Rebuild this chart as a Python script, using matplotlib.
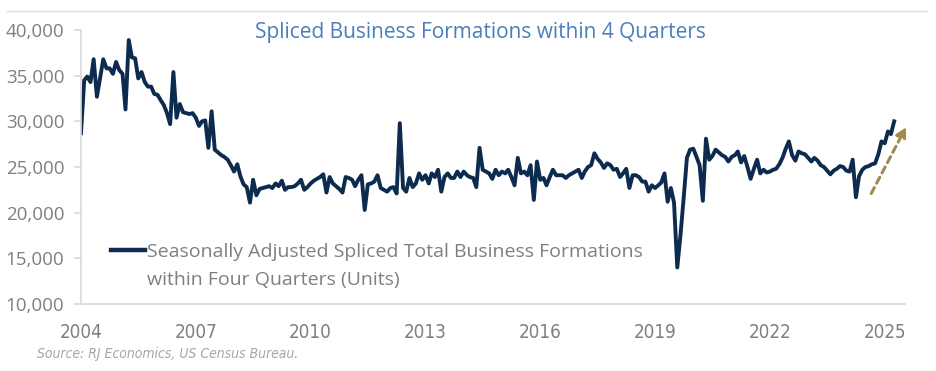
import numpy as np
import pandas as pd
import matplotlib
matplotlib.use('Agg')
import matplotlib.pyplot as plt
from matplotlib.lines import Line2D

# monthly values (units), starting Jan 2004
y2004 = [28700, 34500, 34900, 34300, 36800, 32700, 34700, 36800, 35800, 35800, 35200, 36500]
y2005 = [35600, 35200, 31300, 38900, 37000, 36900, 34700, 35400, 34300, 33800, 33800, 33000]
y2006 = [32900, 32300, 31800, 30900, 29700, 35400, 30400, 31900, 31000, 30900, 30800, 30900]
y2007 = [30400, 29500, 30000, 30100, 27100, 31100, 26900, 26600, 26300, 26100, 25800, 25200]
y2008 = [24500, 25300, 24000, 23100, 22800, 21100, 23600, 21900, 22600, 22700, 22800, 22900]
y2009 = [22700, 23200, 22900, 23500, 22500, 22800, 22800, 22900, 23200, 23600, 22500, 22800]
y2010 = [23200, 23500, 23700, 23900, 24200, 22200, 23900, 23200, 22900, 22600, 22200, 23900]
y2011 = [23800, 23600, 22900, 23600, 24100, 20300, 23100, 23200, 23400, 24100, 22700, 22500]
y2012 = [22300, 22700, 22800, 22100, 29800, 22700, 22300, 23800, 22800, 23200, 24300, 23600]
y2013 = [24100, 23200, 24300, 23900, 24700, 22300, 23900, 24300, 23800, 23800, 24500, 23900]
y2014 = [24500, 24100, 23900, 23800, 22800, 27100, 24700, 24500, 24300, 23700, 24700, 24100]
y2015 = [24500, 24300, 24700, 23900, 23000, 26000, 24300, 24500, 24100, 25200, 21400, 25600]
y2016 = [23600, 23800, 23000, 23900, 24700, 24100, 24100, 24100, 23800, 24100, 24300, 24500]
y2017 = [24700, 23800, 24500, 25000, 25200, 26500, 25900, 25500, 24900, 25400, 25200, 24700]
y2018 = [24800, 23900, 24300, 24800, 22700, 24100, 24100, 23900, 23400, 23400, 22300, 23000]
y2019 = [22700, 23000, 23300, 24300, 21200, 22700, 21100, 14000, 17600, 21600, 26000, 26900]
y2020 = [27000, 26100, 25200, 21300, 28100, 25800, 26200, 26900, 26600, 26300, 26100, 25600]
y2021 = [26100, 26300, 26700, 25500, 26200, 25000, 23700, 24800, 25800, 24300, 24700, 24400]
y2022 = [24500, 24700, 24800, 25300, 26000, 27000, 27800, 26300, 25700, 26700, 26500, 26400]
y2023 = [26000, 25600, 26000, 25700, 25200, 25000, 24600, 24200, 24600, 24800, 25100, 25000]
y2024 = [24600, 24500, 25800, 21700, 24000, 24700, 25000, 25100, 25300, 25400, 26400, 27800]
y2025 = [27600, 28900, 28600, 30000]

values = (y2004 + y2005 + y2006 + y2007 + y2008 + y2009 + y2010 + y2011 + y2012 + y2013
          + y2014 + y2015 + y2016 + y2017 + y2018 + y2019 + y2020 + y2021 + y2022 + y2023
          + y2024 + y2025)
dates = pd.date_range('2004-01-01', periods=len(values), freq='MS')

tick_years = [2004, 2007, 2010, 2013, 2016, 2019, 2022, 2025]
y_ticks = [10000, 15000, 20000, 25000, 30000, 35000, 40000]

# trend arrow (start, end)
arrow_from = (pd.Timestamp('2024-08-25'), 22100)
arrow_to = (pd.Timestamp('2025-07-25'), 29400)

navy = '#0C2B4E'
gray = '#7F7F7F'
light = '#D9D9D9'

plt.rcParams['font.family'] = ['Open Sans', 'DejaVu Sans']

fig = plt.figure(figsize=(9.36, 3.71), dpi=100)
ax = fig.add_axes([0.0865, 0.1806, 0.880, 0.7385])

ax.plot(dates, values, color=navy, lw=2.8, solid_joinstyle='round')

ax.annotate('', xy=arrow_to, xytext=arrow_from, annotation_clip=False,
            arrowprops=dict(arrowstyle='-|>', color='#A08A4C', lw=2.2,
                            linestyle=(0, (2.2, 1.6)), mutation_scale=15,
                            shrinkA=0, shrinkB=0))

ax.set_ylim(10000, 40000)
ax.set_xlim(pd.Timestamp('2004-01-01'), pd.Timestamp('2025-07-10'))
ax.set_yticks(y_ticks)
ax.set_yticklabels([f'{v:,}' for v in y_ticks])
ax.set_xticks([pd.Timestamp(f'{y}-01-01') for y in tick_years])
ax.set_xticklabels([str(y) for y in tick_years], family='DejaVu Sans', fontstretch='condensed')

for s in ['top', 'right']:
    ax.spines[s].set_visible(False)
ax.spines['left'].set_color(light)
ax.spines['bottom'].set_color(light)
ax.spines['left'].set_linewidth(1.2)
ax.spines['bottom'].set_linewidth(1.2)
ax.tick_params(axis='y', colors=light, labelcolor=gray, labelsize=13.5, length=5, width=1.2, pad=7)
ax.tick_params(axis='x', length=0, labelcolor=gray, labelsize=13.5, pad=14)

ax.set_title('Spliced Business Formations within 4 Quarters', color='#4A7EBB',
             fontsize=15, pad=-6, y=1.0, loc='center', x=0.485)

# legend: first line carries the handle, second line is a blank-handle continuation
handles = [Line2D([], [], color=navy, lw=3.2), Line2D([], [], color='none')]
labels = ['Seasonally Adjusted Spliced Total Business Formations', 'within Four Quarters (Units)']
leg = ax.legend(handles, labels, loc='upper left', bbox_to_anchor=(0.036, 0.222), frameon=False,
                fontsize=14, handlelength=1.75, handletextpad=0.12, labelspacing=0.48,
                borderaxespad=0, borderpad=0)
for t in leg.get_texts():
    t.set_color(gray)

fig.text(0.04, 0.035, 'Source: RJ Economics, US Census Bureau.', color='#A6A6A6',
         fontsize=10, style='italic', family='DejaVu Sans', fontstretch='condensed')

fig.add_artist(Line2D([0.008, 0.99], [0.97, 0.97], transform=fig.transFigure,
                      color='#E0E0E0', lw=1))

fig.savefig('out.png', dpi=100)
